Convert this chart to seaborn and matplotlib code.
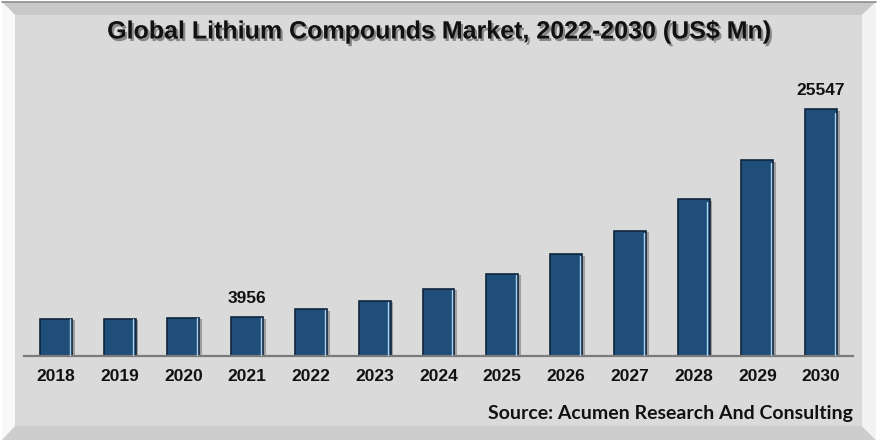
import matplotlib
matplotlib.use("Agg")
import matplotlib.pyplot as plt
import matplotlib.patheffects as pe
from matplotlib.patches import Polygon
import pandas as pd
import seaborn as sns

years = ["2018", "2019", "2020", "2021", "2022", "2023", "2024",
         "2025", "2026", "2027", "2028", "2029", "2030"]
market = [3840, 3830, 3900, 3956, 4795, 5690, 6935,
          8490, 10500, 12955, 16210, 20260, 25547]
shown_labels = ["2021", "2030"]

title = "Global Lithium Compounds Market, 2022-2030 (US$ Mn)"
source = "Source: Acumen Research And Consulting"

df = pd.DataFrame({"year": years, "value": market})

sns.set_style("white")
plt.rcParams["font.family"] = ["Liberation Sans", "DejaVu Sans"]

W, H = 878, 442
fig = plt.figure(figsize=(W / 100, H / 100), dpi=100)
fig.patch.set_facecolor("white")


def px(points):
    # pixel coords (top-left origin) -> figure fraction
    return [(x / W, 1 - y / H) for x, y in points]


# bevelled frame
x0, x1, y0, y1 = 2, 876, 2, 440
i0, i1, j0, j1 = 15, 862, 15, 426
frame = [
    ([(x0, y0), (x1, y0), (i1, j0), (i0, j0)], "#c8c8c8"),
    ([(x0, y0), (i0, j0), (i0, j1), (x0, y1)], "#f8f8f8"),
    ([(x0, y1), (i0, j1), (i1, j1), (x1, y1)], "#cdcdcd"),
    ([(x1, y0), (x1, y1), (i1, j1), (i1, j0)], "#f2f2f2"),
    ([(i0, j0), (i1, j0), (i1, j1), (i0, j1)], "#dadada"),
]
for pts, c in frame:
    fig.patches.append(Polygon(px(pts), closed=True, transform=fig.transFigure,
                               facecolor=c, edgecolor="none", zorder=-2))
fig.add_artist(plt.Line2D([x0 / W, x1 / W], [1 - y0 / H, 1 - y0 / H],
                          transform=fig.transFigure, color="#8c8c8c", lw=1.2, zorder=-1))

ax = fig.add_axes([24 / W, 1 - 355.5 / H, (853 - 24) / W, 289 / H])
ax.set_facecolor("none")

sns.barplot(data=df, x="year", y="value", color="#1f4e79", width=0.5,
            edgecolor="#10253d", linewidth=1.2, saturation=1, ax=ax)

for bar in ax.patches:
    bar.set_path_effects([pe.SimplePatchShadow(offset=(2, -1), shadow_rgbFace="#555555", alpha=0.45),
                          pe.Normal()])
    # light highlight on the right side of each bar
    bx = bar.get_x() + bar.get_width() * 0.93
    ax.plot([bx, bx], [0, bar.get_height() * 0.985], color="#a9d2ee", lw=1.0, zorder=3)

labels = [str(v) if y in shown_labels else "" for y, v in zip(years, market)]
ax.bar_label(ax.containers[0], labels=labels, padding=8,
             fontsize=12.5, fontweight="bold", color="#111111")

ax.set_xlim(-0.5, 12.5)
ax.set_ylim(0, 30000)
ax.set_xlabel("")
ax.set_ylabel("")
ax.set_yticks([])
for s in ["top", "right", "left"]:
    ax.spines[s].set_visible(False)
ax.spines["bottom"].set_color("#7a7a7a")
ax.spines["bottom"].set_linewidth(1.6)
ax.tick_params(axis="x", length=0, pad=10, labelsize=12.5, labelcolor="#111111")
for t in ax.get_xticklabels():
    t.set_fontweight("bold")

fig.text(439 / W, 1 - 31.5 / H, title, ha="center", va="center",
         fontsize=18, fontweight="bold", color="#111111",
         path_effects=[pe.withSimplePatchShadow(offset=(1.5, -1.8), shadow_rgbFace="#444444", alpha=0.55)])

fig.text(853 / W, 1 - 413 / H, source, ha="right", va="center",
         fontsize=14, fontweight="bold", color="#111111",
         family=["Lato", "DejaVu Sans"])

fig.savefig("out.png", dpi=100, facecolor=fig.get_facecolor())
